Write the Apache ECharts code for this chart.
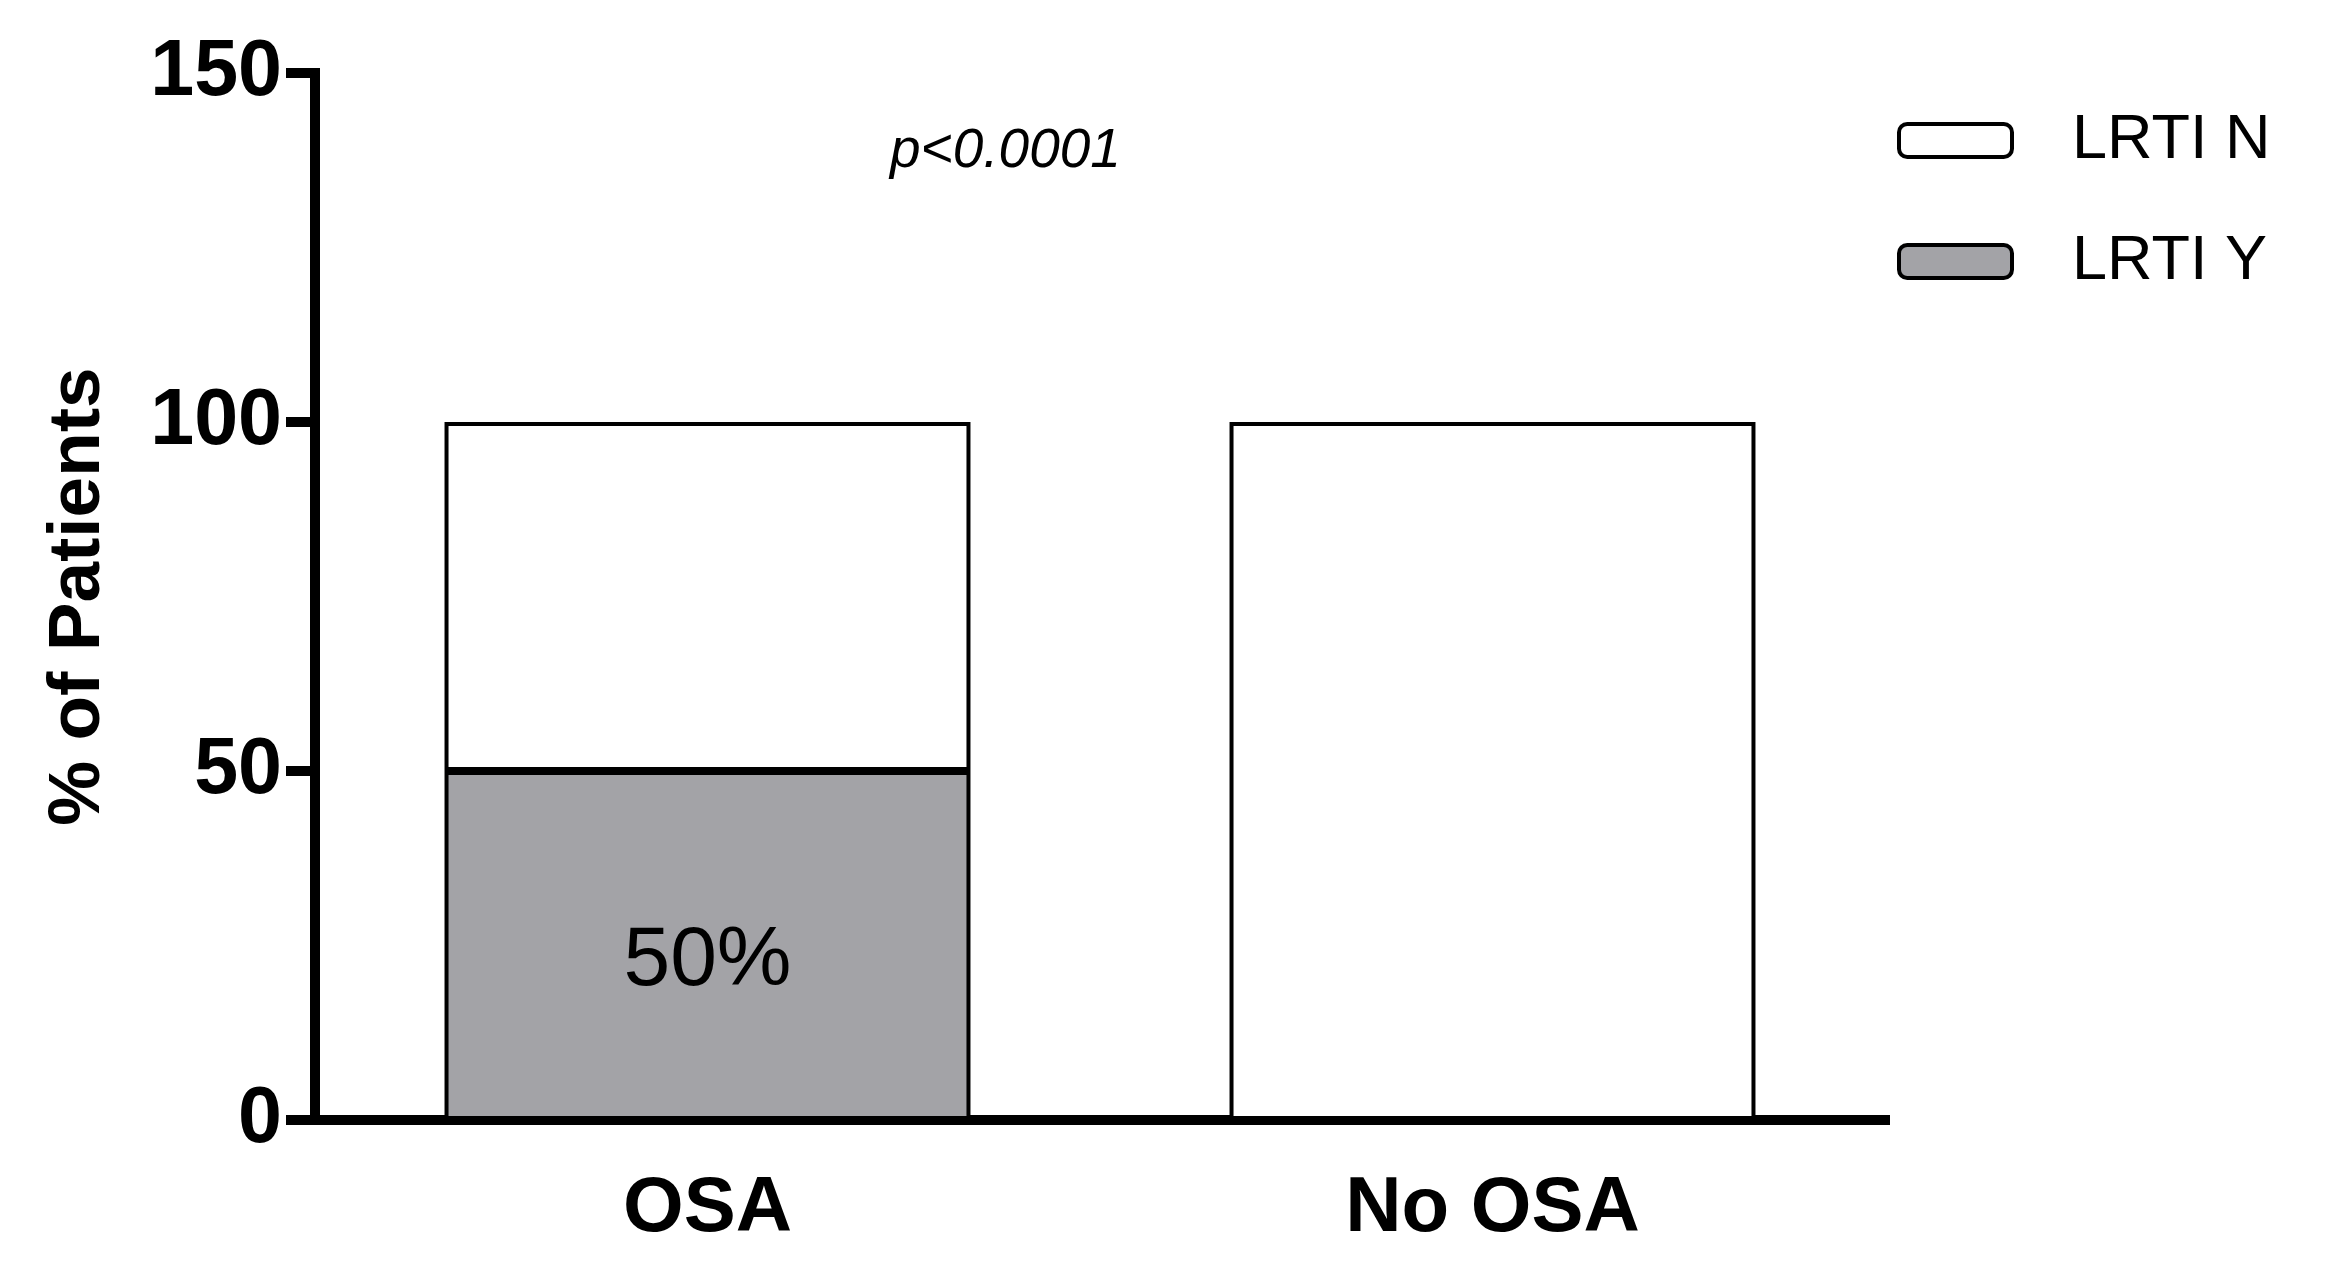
<!DOCTYPE html>
<html>
<head>
<meta charset="utf-8">
<script src="https://cdn.jsdelivr.net/npm/echarts@6/dist/echarts.min.js"></script>
<style>
html,body{margin:0;padding:0;background:#fff;}
#chart{width:2344px;height:1284px;}
</style>
</head>
<body>
<div id="chart"></div>
<script>
var categories = ['OSA', 'No OSA'];
var lrtiY = [50, 0];
var lrtiN = [50, 100];
var yTicks = [0, 50, 100, 150];
var seriesNames = ['LRTI N', 'LRTI Y'];
var pText = 'p<0.0001';

var FONT = '"Liberation Sans", Arial, Helvetica, sans-serif';
var chart = echarts.init(document.getElementById('chart'), null, {renderer: 'canvas'});

chart.setOption({
  backgroundColor: '#ffffff',
  animation: false,
  grid: {left: 315, top: 73, width: 1570, bottom: 164, containLabel: false},
  legend: {
    orient: 'vertical',
    left: 1892,
    top: 104,
    itemWidth: 113,
    itemHeight: 33,
    itemGap: 58,
    icon: 'roundRect',
    data: seriesNames,
    itemStyle: {borderColor: '#000', borderWidth: 4},
    textStyle: {fontFamily: FONT, fontSize: 63, color: '#000', padding: [0, 0, 0, 55]}
  },
  xAxis: {
    type: 'category',
    data: categories,
    axisLine: {lineStyle: {color: '#000', width: 10, cap: 'square'}},
    axisTick: {alignWithLabel: true, length: 25, lineStyle: {color: '#000', width: 10}},
    axisLabel: {fontFamily: FONT, fontWeight: 'bold', fontSize: 78, color: '#000', margin: 50}
  },
  yAxis: {
    type: 'value',
    min: yTicks[0],
    max: yTicks[yTicks.length - 1],
    interval: 50,
    name: '% of Patients',
    nameLocation: 'middle',
    nameGap: 200,
    nameRotate: 90,
    nameTextStyle: {fontFamily: FONT, fontWeight: 'bold', fontSize: 73, color: '#000'},
    splitLine: {show: false},
    axisLine: {show: true, lineStyle: {color: '#000', width: 10, cap: 'square'}},
    axisTick: {show: true, length: 29, lineStyle: {color: '#000', width: 10}},
    axisLabel: {fontFamily: FONT, fontWeight: 'bold', fontSize: 79, color: '#000', margin: 33}
  },
  graphic: [{
    type: 'text',
    left: 1006 - 116,
    top: 145 - 21,
    style: {text: pText, font: 'italic 55px ' + FONT, fill: '#000'}
  }],
  series: [
    {
      name: seriesNames[1],
      type: 'bar',
      stack: 'total',
      barWidth: '67%',
      data: lrtiY,
      itemStyle: {color: '#a3a3a7', borderColor: '#000', borderWidth: 4},
      label: {
        show: true,
        position: 'inside',
        offset: [0, 16],
        fontFamily: FONT,
        fontSize: 84,
        color: '#000',
        formatter: function (p) { return p.value > 0 ? p.value + '%' : ''; }
      }
    },
    {
      name: seriesNames[0],
      type: 'bar',
      stack: 'total',
      barWidth: '67%',
      data: lrtiN,
      itemStyle: {color: '#ffffff', borderColor: '#000', borderWidth: 4}
    }
  ]
});
</script>
</body>
</html>
